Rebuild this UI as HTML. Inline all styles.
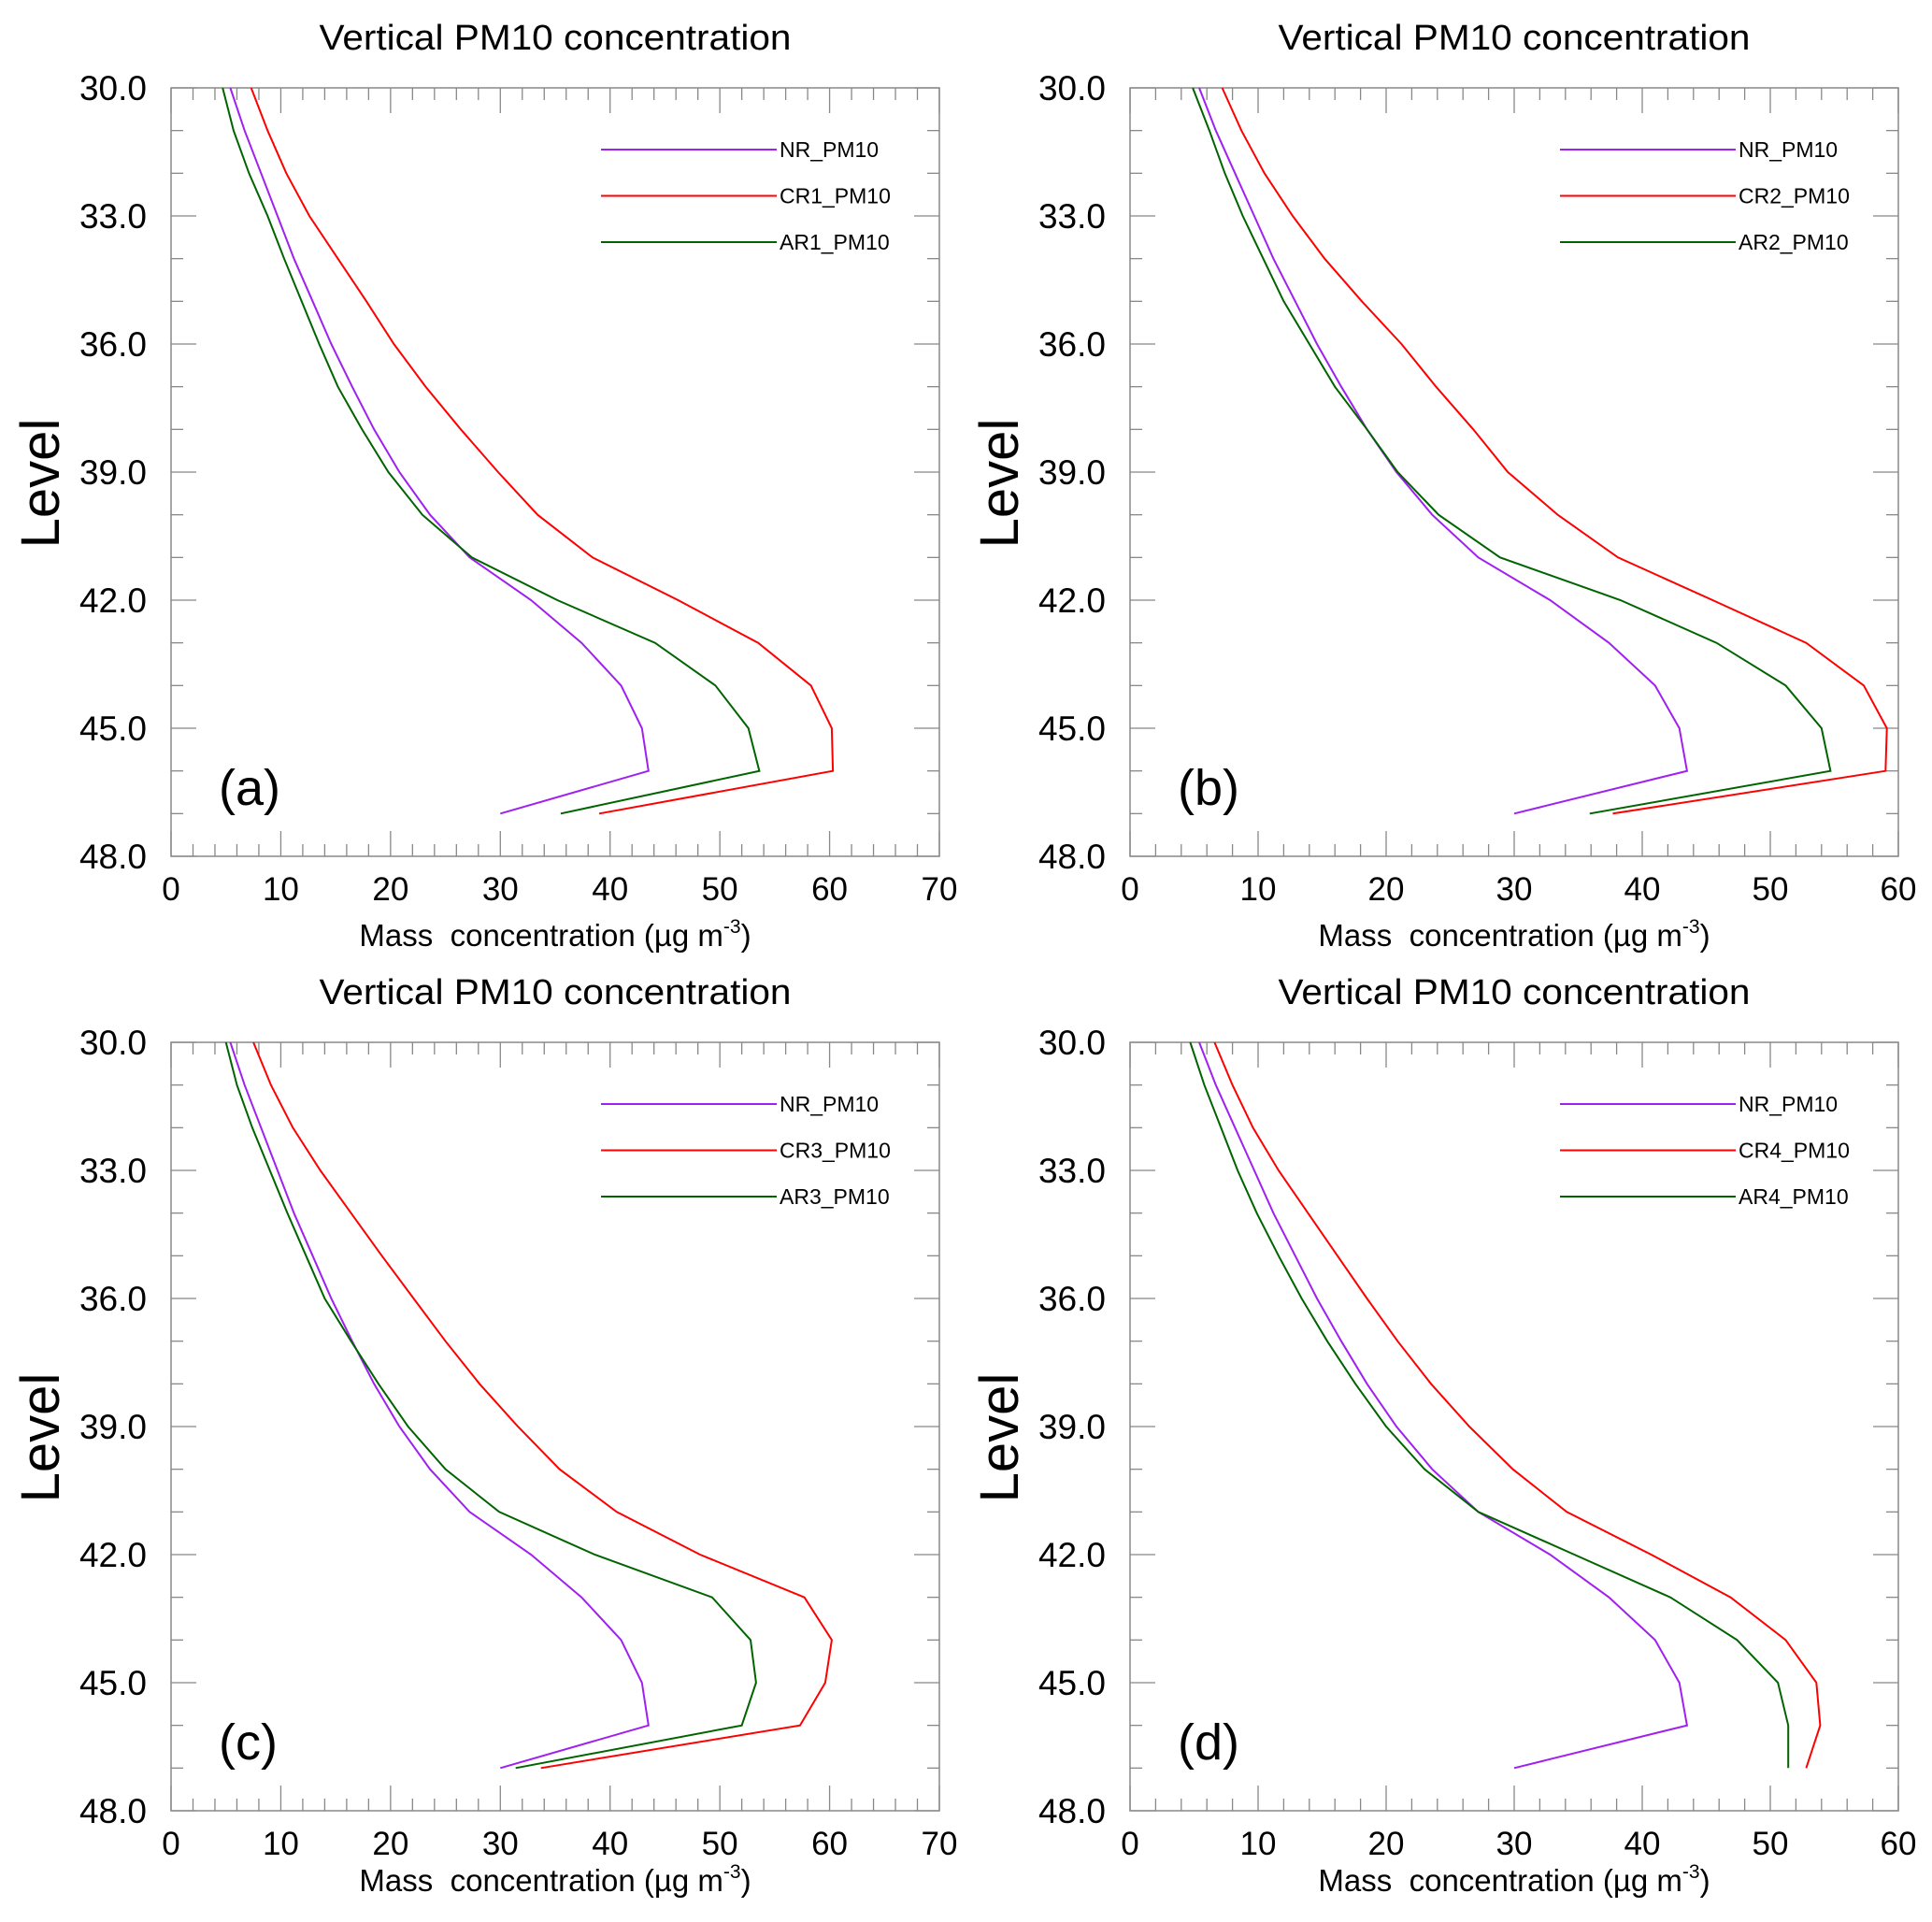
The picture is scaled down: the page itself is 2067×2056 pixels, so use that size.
<!DOCTYPE html>
<html><head><meta charset="utf-8"><style>
html,body{margin:0;padding:0;background:#fff;}
svg{display:block;font-family:"Liberation Sans",Arial,sans-serif;}
</style></head><body>
<svg id="fig" width="2067" height="2056" viewBox="0 0 2067 2056" xmlns="http://www.w3.org/2000/svg"></svg>
<script>
const levels = [30,31,32,33,34,35,36,37,38,39,40,41,42,43,44,45,46,47];
const nrValues = [5.4,6.7,8.2,9.7,11.2,12.9,14.6,16.5,18.5,20.8,23.6,27.2,32.8,37.4,41.0,42.9,43.5,30.0];
const cr1Values = [7.3,8.8,10.5,12.6,15.2,17.8,20.3,23.2,26.4,29.8,33.4,38.4,46.2,53.5,58.3,60.2,60.3,39.0];
const ar1Values = [4.7,5.7,7.1,8.8,10.3,11.9,13.5,15.2,17.4,19.8,22.9,27.4,35.2,44.1,49.6,52.6,53.6,35.5];
const cr2Values = [7.2,8.7,10.5,12.7,15.2,18.1,21.2,23.9,26.8,29.5,33.4,38.1,45.5,52.8,57.3,59.1,59.0,37.7];
const ar2Values = [4.9,6.2,7.4,8.8,10.4,12.0,14.0,16.0,18.5,20.9,24.1,28.9,38.3,45.8,51.2,54.0,54.7,35.9];
const cr3Values = [7.5,9.1,11.1,13.6,16.4,19.2,22.1,25.0,28.1,31.6,35.4,40.6,48.2,57.7,60.2,59.6,57.3,33.7];
const ar3Values = [5.0,6.0,7.4,9.0,10.6,12.3,14.0,16.4,18.9,21.6,25.0,29.9,38.6,49.3,52.8,53.3,52.0,31.4];
const cr4Values = [6.6,8.0,9.6,11.6,13.9,16.2,18.5,20.9,23.5,26.5,29.9,34.1,40.7,46.9,51.2,53.6,53.9,52.8];
const ar4Values = [4.7,5.8,7.1,8.4,9.9,11.6,13.4,15.4,17.6,20.0,23.0,27.2,34.7,42.2,47.4,50.6,51.4,51.4];
const yTicks = [30,33,36,39,42,45,48];
const xTicks70 = [0,10,20,30,40,50,60,70];
const xTicks60 = [0,10,20,30,40,50,60];

const NS="http://www.w3.org/2000/svg";
const svg=document.getElementById('fig');
function mk(tag,attrs,parent){const e=document.createElementNS(NS,tag);for(const k in attrs)e.setAttribute(k,attrs[k]);(parent||svg).appendChild(e);return e;}

const panels=[
 {id:'a',x0:183,y0:94,xmax:70,xt:xTicks70,cr:cr1Values,ar:ar1Values,crn:'CR1_PM10',arn:'AR1_PM10',xlo:96},
 {id:'b',x0:1209,y0:94,xmax:60,xt:xTicks60,cr:cr2Values,ar:ar2Values,crn:'CR2_PM10',arn:'AR2_PM10',xlo:96},
 {id:'c',x0:183,y0:1115,xmax:70,xt:xTicks70,cr:cr3Values,ar:ar3Values,crn:'CR3_PM10',arn:'AR3_PM10',xlo:86},
 {id:'d',x0:1209,y0:1115,xmax:60,xt:xTicks60,cr:cr4Values,ar:ar4Values,crn:'CR4_PM10',arn:'AR4_PM10',xlo:86}
];
const W=822,H=822;
panels.forEach(p=>{
 const g=mk('g',{});
 
 
 const xs=v=>p.x0+v/p.xmax*W;
 const ys=l=>p.y0+(l-30)/18*H;
 const t=mk('text',{x:p.x0+W/2,y:p.y0-41,'text-anchor':'middle','font-size':38,fill:'#000','textLength':505,'lengthAdjust':'spacingAndGlyphs'},g);
 t.textContent='Vertical PM10 concentration';
 
 
 const fr=mk('rect',{x:p.x0,y:p.y0,width:W,height:H,fill:'none',stroke:'#888','stroke-width':1.5},g);
 
 
 for(let v=0;v<=p.xmax;v+=2){
  const major=v%10===0, L=major?27:13, x=xs(v);
  mk('line',{x1:x,y1:p.y0+H,x2:x,y2:p.y0+H-L,stroke:'#888','stroke-width':1.3},g);
  mk('line',{x1:x,y1:p.y0,x2:x,y2:p.y0+L,stroke:'#888','stroke-width':1.3},g);
 }
 p.xt.forEach(v=>{
  const tx=mk('text',{x:xs(v),y:p.y0+H+47,'text-anchor':'middle','font-size':35,fill:'#000'},g);
  tx.textContent=String(v);
  
  
 });
 for(let l=30;l<=48;l++){
  const major=l%3===0, L=major?27:13, y=ys(l);
  mk('line',{x1:p.x0,y1:y,x2:p.x0+L,y2:y,stroke:'#888','stroke-width':1.3},g);
  mk('line',{x1:p.x0+W,y1:y,x2:p.x0+W-L,y2:y,stroke:'#888','stroke-width':1.3},g);
 }
 yTicks.forEach(l=>{
  const ty=mk('text',{x:p.x0-26,y:ys(l)+13,'text-anchor':'end','font-size':37,fill:'#000'},g);
  ty.textContent=l.toFixed(1);
  
  
 });
 const xl=mk('text',{x:p.x0+W/2,y:p.y0+H+p.xlo,'text-anchor':'middle','font-size':33,fill:'#000'},g);
 xl.innerHTML='Mass&#160; concentration (µg m<tspan dy="-14" font-size="21">-3</tspan><tspan dy="14">)</tspan>';
 
 
 const yl=mk('text',{x:0,y:0,'text-anchor':'middle','font-size':58,fill:'#000',transform:`translate(${p.x0-120},${p.y0+H/2+12}) rotate(-90)`},g);
 yl.textContent='Level';
 
 
 const pl=mk('text',{x:p.x0+51,y:p.y0+767,'font-size':54,fill:'#000'},g);
 pl.textContent='('+p.id+')';
 
 
 const series=[
  {vals:nrValues,color:'#a020f0',name:'NR_PM10'},
  {vals:p.cr,color:'#ff0000',name:p.crn},
  {vals:p.ar,color:'#006400',name:p.arn}
 ];
 series.forEach((s,i)=>{
  const pts=s.vals.map((v,k)=>xs(v).toFixed(1)+','+ys(levels[k]).toFixed(1)).join(' ');
  const pl2=mk('polyline',{points:pts,fill:'none',stroke:s.color,'stroke-width':2},g);
  
  
  const ly=p.y0+66+i*49.5;
  const ll=mk('line',{x1:p.x0+460,y1:ly,x2:p.x0+648,y2:ly,stroke:s.color,'stroke-width':2},g);
  
  
  const lt=mk('text',{x:p.x0+651,y:ly+8,'font-size':23,fill:'#000'},g);
  lt.textContent=s.name;
  
  
 });
});
</script>
</body></html>
